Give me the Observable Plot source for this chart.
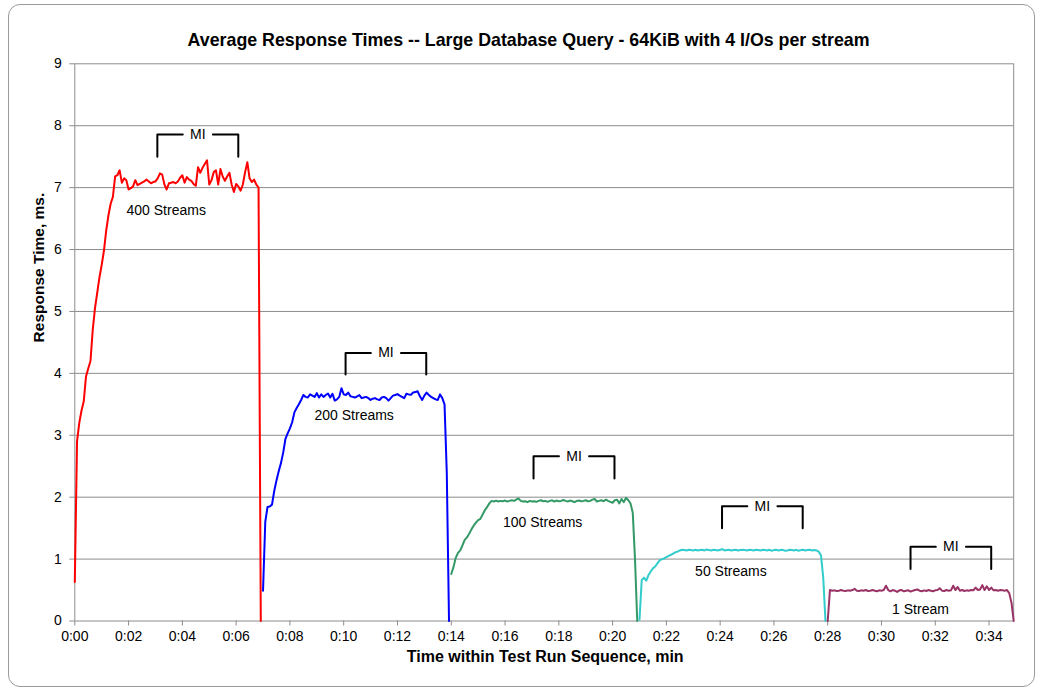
<!DOCTYPE html>
<html>
<head>
<meta charset="utf-8">
<script src="https://cdn.jsdelivr.net/npm/d3@7"></script>
<script src="https://cdn.jsdelivr.net/npm/@observablehq/plot@0.6"></script>
<style>
  html, body { margin: 0; padding: 0; background: #fff; }
  #wrap { position: relative; width: 1041px; height: 690px; overflow: hidden; }
  #frame { position: absolute; left: 8px; top: 4px; width: 1027px; height: 683px;
           border: 1px solid #9a9a9a; border-radius: 12px; box-sizing: border-box; }
  #chart { position: absolute; left: 0; top: 0; }
</style>
</head>
<body>
<div id="wrap"><div id="frame"></div><div id="chart"></div></div>
<script>
const titleText = "Average Response Times -- Large Database Query - 64KiB with 4 I/Os per stream";
const xLabel = "Time within Test Run Sequence, min";
const yLabel = "Response Time, ms.";

const seriesNames = ["400 Streams", "200 Streams", "100 Streams", "50 Streams", "1 Stream"];
const seriesStart = [0, 7, 14, 21, 28];          // minutes
const sampleSeconds = 5;
const seriesColors = ["#FF0000", "#0000FF", "#339966", "#33CCCC", "#993366"];

const rt400 = [0.63,2.9,3.2,3.4,3.55,3.95,4.08,4.2,4.7,5.05,
  5.3,5.55,5.75,5.98,6.3,6.55,6.74,6.85,7.18,7.2,
  7.28,7.08,7.15,7.12,6.97,6.99,7.02,7.12,7.04,7.06,
  7.08,7.1,7.13,7.1,7.07,7.09,7.1,7.15,7.23,7.21,
  7.05,6.97,7.07,7.08,7.09,7.07,7.1,7.16,7.2,7.08,
  7.17,7.13,7.11,7.06,7.03,7.33,7.24,7.32,7.38,7.44,
  7.05,7.12,7.25,7.28,7.05,7.3,7.18,7.11,7.18,7.24,
  7.05,6.93,7.06,7.02,6.95,7.05,7.25,7.41,7.15,7.09,
  7.13,7.05,7.0,0];
const rt200 = [0.49,1.6,1.84,1.85,1.88,2.1,2.27,2.42,2.55,2.72,
  2.94,3.03,3.11,3.21,3.37,3.44,3.5,3.57,3.65,3.62,
  3.61,3.66,3.64,3.62,3.68,3.61,3.66,3.62,3.65,3.675,
  3.61,3.67,3.56,3.58,3.62,3.76,3.66,3.65,3.69,3.63,
  3.62,3.61,3.63,3.65,3.6,3.61,3.62,3.6,3.57,3.59,
  3.6,3.58,3.57,3.61,3.62,3.6,3.56,3.6,3.64,3.65,
  3.665,3.64,3.62,3.6,3.67,3.66,3.655,3.69,3.7,3.71,
  3.63,3.57,3.64,3.69,3.65,3.62,3.6,3.58,3.57,3.66,
  3.6,3.5,2.4,0];
const rt100 = [0.76,0.87,1.02,1.1,1.14,1.22,1.31,1.35,1.41,1.48,
  1.54,1.59,1.63,1.65,1.72,1.79,1.84,1.9,1.94,1.93,
  1.945,1.93,1.94,1.935,1.945,1.93,1.94,1.95,1.94,1.96,
  1.98,1.94,1.93,1.935,1.92,1.94,1.93,1.935,1.925,1.94,
  1.95,1.935,1.94,1.925,1.94,1.95,1.93,1.945,1.935,1.94,
  1.955,1.94,1.93,1.945,1.935,1.92,1.94,1.945,1.935,1.94,
  1.95,1.935,1.94,1.96,1.97,1.93,1.94,1.95,1.935,1.96,
  1.94,1.925,1.91,1.95,1.96,1.9,1.97,1.92,1.99,1.95,
  1.9,1.75,1.0,0];
const rt50 = [0.02,0.66,0.7,0.65,0.74,0.8,0.85,0.88,0.93,0.98,
  1.0,1.01,1.03,1.05,1.07,1.09,1.11,1.12,1.14,1.15,
  1.145,1.14,1.15,1.145,1.14,1.15,1.14,1.145,1.15,1.14,
  1.155,1.145,1.14,1.15,1.145,1.14,1.15,1.16,1.14,1.145,
  1.15,1.14,1.145,1.15,1.14,1.145,1.15,1.145,1.14,1.15,
  1.145,1.14,1.15,1.145,1.14,1.15,1.145,1.14,1.15,1.135,
  1.145,1.15,1.14,1.145,1.15,1.135,1.14,1.15,1.145,1.14,
  1.15,1.135,1.145,1.15,1.14,1.145,1.15,1.14,1.145,1.14,
  1.12,1.06,0.7,0];
const rt1 = [0.0,0.5,0.49,0.495,0.485,0.49,0.5,0.49,0.485,0.495,
  0.49,0.5,0.52,0.49,0.485,0.495,0.49,0.5,0.485,0.49,
  0.5,0.49,0.48,0.495,0.49,0.5,0.57,0.5,0.48,0.5,
  0.49,0.47,0.495,0.5,0.48,0.49,0.495,0.475,0.49,0.5,
  0.51,0.49,0.48,0.495,0.485,0.5,0.49,0.48,0.495,0.5,
  0.53,0.49,0.485,0.5,0.49,0.495,0.57,0.5,0.55,0.49,
  0.5,0.485,0.495,0.49,0.5,0.495,0.54,0.5,0.51,0.58,
  0.5,0.56,0.5,0.54,0.495,0.5,0.49,0.5,0.495,0.49,
  0.5,0.45,0.3,0];
const seriesValues = [rt400, rt200, rt100, rt50, rt1];

// "MI" measurement-interval brackets
const miLeft   = [3.07, 10.07, 17.06, 24.07, 31.08];
const miRight  = [6.08, 13.07, 20.07, 27.07, 34.08];
const miTop    = [7.86, 4.33, 2.66, 1.855, 1.2];
const miBottom = [7.5, 3.98, 2.3, 1.5, 0.84];
const miGap = 0.56;

// series labels
const labelX = [3.4, 10.39, 17.4, 24.4, 31.45];
const labelY = [6.63, 3.32, 1.59, 0.8, 0.19];

const xTicks = d3.range(0, 35, 2);
const yTicks = d3.range(0, 10, 1);
const xMax = 34 + 55 / 60;

// build tables
const rows = [];
seriesNames.forEach((s, k) => {
  seriesValues[k].forEach((v, i) => rows.push({s, t: seriesStart[k] + i * sampleSeconds / 60, v}));
});
const bracket = [];
miLeft.forEach((l, k) => {
  const c = (l + miRight[k]) / 2;
  bracket.push({id: k + "a", t: l, v: miBottom[k]}, {id: k + "a", t: l, v: miTop[k]}, {id: k + "a", t: c - miGap, v: miTop[k]});
  bracket.push({id: k + "b", t: c + miGap, v: miTop[k]}, {id: k + "b", t: miRight[k], v: miTop[k]}, {id: k + "b", t: miRight[k], v: miBottom[k]});
});
const miLabels = miLeft.map((l, k) => ({t: (l + miRight[k]) / 2, v: miTop[k]}));
const seriesLabels = seriesNames.map((s, k) => ({s, t: labelX[k], v: labelY[k]}));

const font = "'Liberation Sans', Arial, sans-serif";
const grid = "#8c8c8c";

const chart = Plot.plot({
  width: 1041,
  height: 690,
  marginLeft: 74.3,
  marginRight: 27.8,
  marginTop: 63.3,
  marginBottom: 69.5,
  style: {fontFamily: font, fontSize: "14px", color: "black", background: "transparent", overflow: "visible"},
  x: {domain: [0, xMax], label: null},
  y: {domain: [0, 9], label: null},
  color: {domain: seriesNames, range: seriesColors},
  marks: [
    Plot.gridY(yTicks, {stroke: grid, strokeOpacity: 1, strokeWidth: 1}),
    Plot.ruleX([0, xMax], {stroke: grid, strokeWidth: 1}),
    Plot.axisY(yTicks, {tickSize: 5, tickPadding: 8, stroke: grid, fill: "black", fontSize: 14, label: null,
      tickFormat: d => String(d)}),
    Plot.axisX(xTicks, {tickSize: 5, tickPadding: 5, stroke: grid, fill: "black", fontSize: 14, label: null,
      tickFormat: d => "0:" + String(d).padStart(2, "0")}),
    Plot.line(rows, {x: "t", y: "v", z: "s", stroke: "s", strokeWidth: 2, curve: "linear"}),
    Plot.line(bracket, {x: "t", y: "v", z: "id", stroke: "black", strokeWidth: 2}),
    Plot.text(miLabels, {x: "t", y: "v", text: () => "MI", fontSize: 14, fill: "black"}),
    Plot.text(seriesLabels, {x: "t", y: "v", text: "s", fontSize: 14, fill: "black"}),
    Plot.text([titleText], {text: d => d, frameAnchor: "top", dy: -30.3, dx: -15.7, fontSize: 17.8, fontWeight: "bold", fill: "black"}),
    Plot.text([xLabel], {text: d => d, frameAnchor: "bottom", dy: 40.5, dx: 1, fontSize: 16, fontWeight: "bold", fill: "black"}),
    Plot.text([yLabel], {text: d => d, frameAnchor: "left", dx: -35.8, rotate: -90, fontSize: 15.5, fontWeight: "bold", fill: "black"})
  ]
});
document.getElementById("chart").appendChild(chart);
</script>
</body>
</html>
